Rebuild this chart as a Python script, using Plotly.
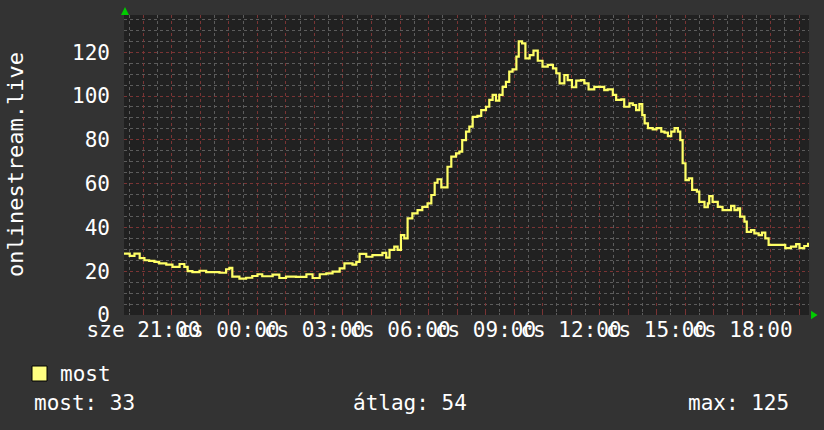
import pandas as pd
import plotly.graph_objects as go

# viewers of onlinestream.live (wed evening -> thu evening)
times = [
    '2024-05-01 20:19', '2024-05-01 20:31', '2024-05-01 20:41', '2024-05-01 20:52',
    '2024-05-01 21:02', '2024-05-01 21:12', '2024-05-01 21:23', '2024-05-01 21:33',
    '2024-05-01 21:48', '2024-05-01 22:01', '2024-05-01 22:16', '2024-05-01 22:26',
    '2024-05-01 22:33', '2024-05-01 22:43', '2024-05-01 22:58', '2024-05-01 23:12',
    '2024-05-01 23:25', '2024-05-01 23:40', '2024-05-01 23:54', '2024-05-02 00:01',
    '2024-05-02 00:07', '2024-05-02 00:22', '2024-05-02 00:36', '2024-05-02 00:49',
    '2024-05-02 01:00', '2024-05-02 01:10', '2024-05-02 01:32', '2024-05-02 01:46',
    '2024-05-02 02:00', '2024-05-02 02:21', '2024-05-02 02:43', '2024-05-02 02:56',
    '2024-05-02 03:11', '2024-05-02 03:25', '2024-05-02 03:38', '2024-05-02 03:53',
    '2024-05-02 04:03', '2024-05-02 04:14', '2024-05-02 04:20', '2024-05-02 04:28',
    '2024-05-02 04:35', '2024-05-02 04:49', '2024-05-02 05:02', '2024-05-02 05:17',
    '2024-05-02 05:23', '2024-05-02 05:31', '2024-05-02 05:38', '2024-05-02 05:48',
    '2024-05-02 05:55', '2024-05-02 06:02', '2024-05-02 06:09', '2024-05-02 06:16',
    '2024-05-02 06:26', '2024-05-02 06:37', '2024-05-02 06:47', '2024-05-02 06:58',
    '2024-05-02 07:06', '2024-05-02 07:13', '2024-05-02 07:19', '2024-05-02 07:27',
    '2024-05-02 07:34', '2024-05-02 07:40', '2024-05-02 07:48', '2024-05-02 07:58',
    '2024-05-02 08:05', '2024-05-02 08:11', '2024-05-02 08:19', '2024-05-02 08:26',
    '2024-05-02 08:33', '2024-05-02 08:43', '2024-05-02 08:51', '2024-05-02 09:01',
    '2024-05-02 09:08', '2024-05-02 09:15', '2024-05-02 09:22', '2024-05-02 09:29',
    '2024-05-02 09:36', '2024-05-02 09:43', '2024-05-02 09:50', '2024-05-02 09:57',
    '2024-05-02 10:05', '2024-05-02 10:10', '2024-05-02 10:17', '2024-05-02 10:24',
    '2024-05-02 10:33', '2024-05-02 10:41', '2024-05-02 10:50', '2024-05-02 11:00',
    '2024-05-02 11:11', '2024-05-02 11:22', '2024-05-02 11:29', '2024-05-02 11:36',
    '2024-05-02 11:46', '2024-05-02 11:53', '2024-05-02 12:02', '2024-05-02 12:11',
    '2024-05-02 12:21', '2024-05-02 12:28', '2024-05-02 12:37', '2024-05-02 12:49',
    '2024-05-02 13:00', '2024-05-02 13:10', '2024-05-02 13:17', '2024-05-02 13:28',
    '2024-05-02 13:35', '2024-05-02 13:46', '2024-05-02 13:52', '2024-05-02 14:03',
    '2024-05-02 14:10', '2024-05-02 14:17', '2024-05-02 14:24', '2024-05-02 14:30',
    '2024-05-02 14:35', '2024-05-02 14:42', '2024-05-02 14:52', '2024-05-02 15:00',
    '2024-05-02 15:10', '2024-05-02 15:17', '2024-05-02 15:24', '2024-05-02 15:31',
    '2024-05-02 15:38', '2024-05-02 15:45', '2024-05-02 15:50', '2024-05-02 15:55',
    '2024-05-02 16:01', '2024-05-02 16:08', '2024-05-02 16:15', '2024-05-02 16:25',
    '2024-05-02 16:30', '2024-05-02 16:41', '2024-05-02 16:48', '2024-05-02 16:51',
    '2024-05-02 16:58', '2024-05-02 17:09', '2024-05-02 17:19', '2024-05-02 17:30',
    '2024-05-02 17:37', '2024-05-02 17:44', '2024-05-02 17:51', '2024-05-02 17:56',
    '2024-05-02 18:05', '2024-05-02 18:10', '2024-05-02 18:19', '2024-05-02 18:26',
    '2024-05-02 18:35', '2024-05-02 18:42', '2024-05-02 18:49', '2024-05-02 18:56',
    '2024-05-02 19:08', '2024-05-02 19:22', '2024-05-02 19:31', '2024-05-02 19:43',
    '2024-05-02 19:54', '2024-05-02 20:01', '2024-05-02 20:11', '2024-05-02 20:19',
]
viewers = [
    28, 27, 28, 26,
    25, 24.7, 24.3, 23.6,
    23, 22, 23.3, 22,
    20, 19.6, 20.2, 19.6,
    19.6, 19.3, 20.9, 21.5,
    17.5, 16.6, 17, 17.8,
    18.6, 17.7, 18.4, 16.9,
    17.5, 17.4, 18.6, 16.9,
    18.6, 19, 19.8, 21.3,
    23.6, 23.6, 23, 24.3,
    27.9, 26.6, 27.3, 27.3,
    28.4, 26.2, 29.7, 31.2,
    29.7, 36.5, 35, 44.1,
    46.4, 47.9, 49.4, 51,
    54.8, 60.4, 62, 58.3,
    58.3, 67.7, 72.3, 73.8,
    74.6, 79.9, 83.7, 86,
    90.5, 90.9, 93.6, 95.1,
    98.2, 100.5, 97.9, 100.5,
    104.2, 106.5, 111.1, 112.2,
    118, 125, 124, 117.2,
    118.7, 120.7, 116.1, 113.4,
    114.2, 112.6, 110.4, 105.8,
    109.6, 107.3, 104, 107,
    107.3, 105.8, 103, 104.2,
    104.2, 102.7, 103, 100.5,
    98.2, 98.5, 95.1, 96.7,
    95.9, 93.6, 96.3, 91.3,
    87.5, 85.3, 84.8, 85.3,
    83.7, 83.3, 81.7, 83.7,
    85.3, 83.7, 79.9, 69.3,
    61.6, 62.4, 57.1, 56.3,
    51.7, 49.2, 51, 54.3,
    51.7, 49.4, 47.9, 47.9,
    49.8, 47.9, 48.7, 44.9,
    42.6, 38, 38.8, 37.3,
    36.5, 37.6, 35, 32,
    32, 32, 30.5, 31.2,
    32.4, 30.5, 31.5, 33,
]

hour_ticks = pd.date_range('2024-05-01 21:00', '2024-05-02 20:00', freq='h')
label_at = {
    '2024-05-01 21:00': 'sze 21:00',
    '2024-05-02 00:00': 'cs 00:00',
    '2024-05-02 03:00': 'cs 03:00',
    '2024-05-02 06:00': 'cs 06:00',
    '2024-05-02 09:00': 'cs 09:00',
    '2024-05-02 12:00': 'cs 12:00',
    '2024-05-02 15:00': 'cs 15:00',
    '2024-05-02 18:00': 'cs 18:00',
}
tick_text = [label_at.get(t.strftime('%Y-%m-%d %H:%M'), '') for t in hour_ticks]

legend_name = 'most'
stat_last = 'most: 33'
stat_avg = 'átlag: 54'
stat_max = 'max: 125'

font = 'DejaVu Sans Mono'
bg = '#333333'
canvas = '#212121'
minor_grid = '#5c5c5c'
major_grid = '#7a3434'
line_col = '#ffff66'

fig = go.Figure()
fig.add_trace(go.Scatter(
    x=pd.to_datetime(times), y=viewers, mode='lines',
    line=dict(color=line_col, width=2.2, shape='hv'),
    showlegend=False, hoverinfo='skip'
))

fig.update_layout(
    width=824, height=430,
    margin=dict(l=124, r=15, t=15, b=115),
    paper_bgcolor=bg, plot_bgcolor=canvas,
    font=dict(family=font, color='white', size=20),
    showlegend=False,
)

fig.update_xaxes(
    range=['2024-05-01 20:19', '2024-05-02 20:21'],
    tickmode='array', tickvals=hour_ticks, ticktext=tick_text,
    tickangle=0, tickfont=dict(size=21, family=font, color='white'),
    showgrid=True, gridcolor=major_grid, griddash='dot', gridwidth=1,
    ticks='inside', ticklen=3, tickcolor=major_grid,
    minor=dict(dtick=30 * 60 * 1000, tick0='2024-05-01 20:30', showgrid=True,
               gridcolor=minor_grid, griddash='dot', ticks='inside',
               ticklen=2, tickcolor=minor_grid),
    showline=False, zeroline=False,
)

fig.update_yaxes(
    range=[0, 137],
    tickmode='array', tickvals=[0, 20, 40, 60, 80, 100, 120],
    tickfont=dict(size=21, family=font, color='white'),
    showgrid=True, gridcolor=major_grid, griddash='dot', gridwidth=1,
    ticks='', ticklabelstandoff=13,
    minor=dict(dtick=5, showgrid=True, gridcolor=minor_grid, griddash='dot'),
    showline=False, zeroline=False,
)

# y axis title, placed like rrdtool does it
fig.add_annotation(
    text='onlinestream.live', xref='paper', yref='paper',
    x=-0.159, y=0.5, xanchor='center', yanchor='middle',
    textangle=-90, showarrow=False,
    font=dict(size=22, family=font, color='white'),
)

# green axis arrows
fig.add_shape(type='path', xref='paper', yref='paper',
              path='M -0.0044 1.0 L 0.0015 1.027 L 0.0073 1.0 Z',
              fillcolor='#00cc00', line=dict(width=0))
fig.add_shape(type='path', xref='paper', yref='paper',
              path='M 1.003 0.014 L 1.0125 0 L 1.003 -0.014 Z',
              fillcolor='#00cc00', line=dict(width=0))

# legend block
fig.add_shape(type='rect', xref='paper', yref='paper',
              x0=-0.1343, x1=-0.1124, y0=-0.22, y1=-0.17,
              fillcolor='#ffff80', line=dict(color='black', width=1))
fig.add_annotation(text=legend_name, xref='paper', yref='paper',
                   x=-0.097, y=-0.197, xanchor='left', yanchor='middle',
                   showarrow=False, font=dict(size=21, family=font, color='white'))
fig.add_annotation(text=stat_last, xref='paper', yref='paper',
                   x=-0.134, y=-0.293, xanchor='left', yanchor='middle',
                   showarrow=False, font=dict(size=21, family=font, color='white'))
fig.add_annotation(text=stat_avg, xref='paper', yref='paper',
                   x=0.3315, y=-0.293, xanchor='left', yanchor='middle',
                   showarrow=False, font=dict(size=21, family=font, color='white'))
fig.add_annotation(text=stat_max, xref='paper', yref='paper',
                   x=0.9737, y=-0.293, xanchor='right', yanchor='middle',
                   showarrow=False, font=dict(size=21, family=font, color='white'))

# the page body has a default 8px margin; drop it so the chart sits at 0,0
fig.write_html('out.html', config={'displayModeBar': False},
               post_script="document.body.style.margin='0';")
